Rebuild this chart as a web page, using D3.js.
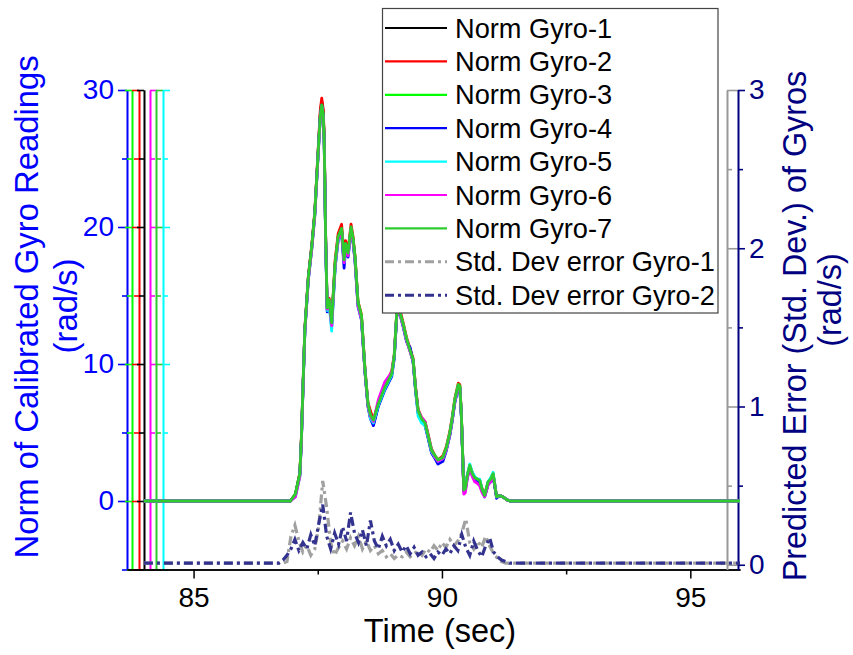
<!DOCTYPE html>
<html>
<head>
<meta charset="utf-8">
<script src="https://cdn.jsdelivr.net/npm/d3@7"></script>
<style>
  body { margin: 0; background: #fff; }
  svg { font-family: "Liberation Sans", Arial, sans-serif; }
</style>
</head>
<body>
<script>
// time stamps (sec) shared by the seven norm curves
var timeNorm = [84.0, 86.95, 87.05, 87.14, 87.17, 87.2, 87.24, 87.31, 87.38, 87.44,
  87.51, 87.55, 87.58, 87.61, 87.63, 87.66, 87.69, 87.73, 87.78, 87.85,
  87.91, 87.98, 88.03, 88.06, 88.11, 88.17, 88.21, 88.25, 88.31, 88.38,
  88.45, 88.51, 88.56, 88.62, 88.72, 88.85, 88.99, 89.04, 89.09, 89.15,
  89.22, 89.29, 89.36, 89.42, 89.47, 89.52, 89.59, 89.66, 89.72, 89.79,
  89.86, 89.92, 90.02, 90.09, 90.16, 90.21, 90.26, 90.33, 90.36, 90.39,
  90.42, 90.44, 90.47, 90.51, 90.56, 90.61, 90.66, 90.71, 90.76, 90.81,
  90.86, 90.93, 90.98, 91.03, 91.07, 91.1, 91.16, 91.23, 91.3, 91.37, 96.0];

// norm of calibrated gyro readings (rad/s)
var gyro1 = [0, 0, 0.5, 2.0, 4.5, 8.0, 12.5, 16.3, 18.6, 21.0,
  25.6, 28.2, 29.2, 28.4, 26.4, 19.0, 14.0, 14.6, 12.9, 17.3,
  19.2, 19.8, 17.5, 18.6, 18.0, 19.9, 19.1, 17.7, 14.4, 13.4,
  9.5, 7.0, 6.1, 5.6, 7.0, 8.2, 9.3, 10.5, 13.6, 13.8,
  12.8, 11.7, 10.9, 10.2, 8.1, 6.5, 5.9, 5.6, 4.7, 3.6,
  3.2, 2.9, 3.1, 3.8, 4.9, 6.0, 7.3, 8.4, 8.3, 6.3,
  3.0, 0.8, 0.9, 1.8, 2.5, 2.0, 1.6, 1.5, 1.4, 0.8,
  0.4, 1.3, 1.5, 1.9, 1.0, 0.3, 0.4, 0.3, 0.1, 0, 0];
var gyro2 = [0, 0, 0.4, 2.1, 4.6, 8.1, 12.6, 16.4, 18.7, 21.1,
  25.8, 28.5, 29.4, 28.6, 26.6, 19.2, 14.2, 14.8, 13.1, 17.6,
  19.5, 20.2, 17.9, 19.0, 18.3, 20.2, 19.3, 17.9, 14.6, 13.6,
  9.7, 7.2, 6.6, 5.9, 7.2, 8.3, 9.5, 10.7, 13.8, 14.0,
  13.0, 11.9, 11.1, 10.4, 8.3, 6.7, 6.1, 5.8, 4.9, 3.8,
  3.3, 3.0, 3.3, 4.0, 5.1, 6.2, 7.5, 8.6, 8.5, 6.5,
  3.1, 0.9, 1.0, 1.9, 2.6, 2.1, 1.7, 1.6, 1.5, 0.9,
  0.5, 1.4, 1.6, 2.0, 1.1, 0.3, 0.4, 0.3, 0.1, 0, 0];
var gyro3 = [0, 0, 0.5, 2.0, 4.4, 7.9, 12.4, 16.2, 18.5, 20.9,
  25.5, 28.0, 28.9, 28.2, 26.2, 18.9, 14.1, 14.6, 13.0, 17.3,
  19.2, 19.8, 17.6, 18.7, 18.1, 19.9, 19.1, 17.8, 14.5, 13.5,
  9.6, 7.1, 6.2, 5.8, 7.1, 8.3, 9.3, 10.6, 13.7, 13.8,
  12.9, 11.8, 11.0, 10.3, 8.2, 6.6, 6.0, 5.7, 4.8, 3.7,
  3.3, 3.0, 3.2, 3.9, 5.0, 6.1, 7.4, 8.5, 8.4, 6.4,
  3.0, 0.8, 0.9, 1.8, 2.6, 2.0, 1.7, 1.6, 1.5, 0.8,
  0.4, 1.4, 1.6, 2.0, 1.0, 0.3, 0.4, 0.3, 0.1, 0, 0];
var gyro4 = [0, 0, 0.4, 1.9, 4.4, 7.9, 12.4, 16.2, 18.5, 20.9,
  25.5, 28.0, 28.9, 28.1, 26.1, 18.8, 13.8, 14.4, 12.7, 17.1,
  19.0, 19.6, 17.0, 18.4, 17.8, 19.7, 18.9, 17.5, 14.2, 13.2,
  9.4, 6.9, 6.0, 5.5, 6.9, 8.1, 9.1, 10.4, 13.5, 13.7,
  12.7, 11.6, 11.2, 10.1, 8.0, 6.4, 5.8, 5.5, 4.6, 3.5,
  3.1, 2.7, 2.9, 3.7, 4.8, 5.9, 7.2, 8.3, 8.2, 6.2,
  2.9, 0.7, 0.8, 1.7, 2.4, 1.9, 1.5, 1.4, 1.3, 0.7,
  0.3, 1.2, 1.4, 1.8, 0.9, 0.2, 0.4, 0.3, 0.1, 0, 0];
var gyro5 = [0, 0, 0.3, 1.8, 4.3, 7.8, 12.3, 16.1, 18.4, 20.8,
  25.4, 27.9, 28.8, 28.0, 26.0, 18.8, 13.9, 14.3, 12.4, 17.0,
  19.0, 19.7, 17.4, 18.5, 17.9, 19.8, 19.0, 17.6, 14.3, 13.3,
  9.5, 7.0, 6.0, 5.7, 7.0, 8.2, 9.2, 10.5, 13.6, 13.7,
  12.8, 11.7, 10.9, 10.2, 8.1, 6.2, 5.7, 5.5, 4.7, 3.6,
  3.2, 2.9, 3.1, 3.8, 4.9, 6.0, 7.3, 8.4, 8.3, 6.3,
  3.0, 0.9, 1.0, 1.9, 2.7, 2.1, 1.8, 1.6, 1.6, 0.8,
  0.4, 1.4, 1.7, 2.1, 1.1, 0.3, 0.4, 0.3, 0.1, 0, 0];
var gyro6 = [0, 0, 0.3, 1.8, 4.2, 7.8, 12.3, 16.1, 18.4, 20.8,
  25.4, 27.9, 28.8, 28.1, 26.1, 18.9, 14.0, 14.5, 12.8, 17.2,
  19.1, 19.7, 17.4, 18.5, 17.9, 19.8, 19.0, 17.6, 14.3, 13.3,
  9.5, 7.0, 6.2, 5.8, 7.4, 8.7, 9.4, 10.6, 13.6, 13.7,
  12.8, 11.7, 10.9, 10.2, 8.2, 6.6, 6.1, 5.8, 4.8, 3.7,
  3.2, 2.9, 3.1, 3.8, 4.9, 6.0, 7.3, 8.4, 8.3, 6.3,
  3.0, 0.5, 0.6, 1.6, 2.4, 1.8, 1.4, 1.3, 1.1, 0.6,
  0.3, 1.2, 1.4, 1.9, 1.0, 0.3, 0.4, 0.3, 0.1, 0, 0];
var gyro7 = [0, 0, 0.5, 2.0, 4.5, 8.0, 12.5, 16.3, 18.6, 21.0,
  25.6, 28.0, 28.9, 28.2, 26.2, 19.0, 14.1, 14.7, 13.0, 17.4,
  19.3, 19.9, 17.6, 18.8, 18.1, 20.0, 19.2, 17.8, 14.5, 13.5,
  9.6, 7.1, 6.3, 5.9, 7.1, 8.3, 9.3, 10.6, 13.7, 13.8,
  12.9, 11.8, 11.0, 10.3, 8.2, 6.6, 6.0, 5.7, 4.8, 3.7,
  3.3, 3.0, 3.2, 3.9, 5.0, 6.1, 7.4, 8.5, 8.4, 6.4,
  3.0, 0.8, 0.9, 1.8, 2.6, 2.0, 1.7, 1.6, 1.5, 0.8,
  0.4, 1.4, 1.6, 2.0, 1.0, 0.3, 0.4, 0.3, 0.1, 0, 0];

// time stamps for the predicted error (std. dev.)
var timeStd = [84.0, 86.72, 86.8, 86.88, 86.96, 87.04, 87.12, 87.2, 87.28, 87.36,
  87.44, 87.52, 87.6, 87.68, 87.76, 87.84, 87.92, 88.0, 88.08, 88.16,
  88.24, 88.32, 88.4, 88.48, 88.56, 88.64, 88.72, 88.8, 88.88, 88.96,
  89.04, 89.12, 89.2, 89.28, 89.36, 89.44, 89.52, 89.6, 89.68, 89.76,
  89.84, 89.92, 90.0, 90.08, 90.16, 90.24, 90.32, 90.4, 90.48, 90.56,
  90.64, 90.72, 90.8, 90.88, 90.96, 91.04, 91.12, 91.2, 91.28, 91.36, 96.0];
var stdGyro1 = [0.01, 0.01, 0.01, 0.02, 0.18, 0.25, 0.15, 0.08, 0.12, 0.06,
  0.10, 0.24, 0.53, 0.36, 0.14, 0.06, 0.11, 0.15, 0.10, 0.17,
  0.12, 0.18, 0.10, 0.15, 0.09, 0.12, 0.07, 0.09, 0.05, 0.07,
  0.04, 0.06, 0.05, 0.08, 0.05, 0.07, 0.09, 0.06, 0.10, 0.08,
  0.12, 0.09, 0.14, 0.11, 0.16, 0.12, 0.15, 0.20, 0.29, 0.14,
  0.10, 0.15, 0.11, 0.18, 0.12, 0.07, 0.04, 0.02, 0.01, 0.01, 0.01];
var stdGyro2 = [0.01, 0.01, 0.03, 0.06, 0.10, 0.16, 0.09, 0.14, 0.10, 0.19,
  0.12, 0.26, 0.38, 0.18, 0.10, 0.20, 0.13, 0.24, 0.15, 0.33,
  0.20, 0.14, 0.22, 0.12, 0.28, 0.15, 0.10, 0.18, 0.12, 0.16,
  0.09, 0.13, 0.08, 0.12, 0.07, 0.11, 0.06, 0.08, 0.05, 0.07,
  0.04, 0.08, 0.06, 0.10, 0.07, 0.12, 0.09, 0.19, 0.11, 0.06,
  0.15, 0.09, 0.05, 0.12, 0.17, 0.08, 0.05, 0.03, 0.02, 0.01, 0.01];

var xTicks = [85, 90, 95];
var xMinor = [87.5, 92.5];
var leftTicks = [0, 10, 20, 30];
var leftMinor = [-5, 5, 15, 25];
var rightTicks = [0, 1, 2, 3];
var rightMinor = [0.5, 1.5, 2.5];
var legendNames = ["Norm Gyro-1", "Norm Gyro-2", "Norm Gyro-3", "Norm Gyro-4",
  "Norm Gyro-5", "Norm Gyro-6", "Norm Gyro-7",
  "Std. Dev error Gyro-1", "Std. Dev error Gyro-2"];

var normColors = ["#000000", "#ff0000", "#00ff00", "#0000ff", "#00ffff", "#ff00ff", "#2ecc2e"];
var grayCol = "#a0a0a0";
var navyCol = "#33338f";

var svg = d3.select("body").append("svg")
    .attr("width", 853)
    .attr("height", 655);

var x = d3.scaleLinear().domain([83.66, 96.0]).range([127, 740]);
var yL = d3.scaleLinear().domain([-5, 30]).range([569.5, 90]);
var yR = d3.scaleLinear().domain([-0.03, 3]).range([569.5, 90]);

// the stacked left axes, one per gyro layer
var leftAxes = [
  {pos: 127, color: "#0000ff", side: "left", labels: true},
  {pos: 132, color: "#00ff00", side: "left"},
  {pos: 139, color: "#ff0000", side: "left"},
  {pos: 144, color: "#000000", side: "left"},
  {pos: 150, color: "#ff00ff", side: "right"},
  {pos: 156, color: "#2ecc2e", side: "right"},
  {pos: 163, color: "#00ffff", side: "right"}
];

function styleAxis(g, color, width) {
  g.selectAll("path, line").attr("stroke", color).attr("stroke-width", width);
  g.selectAll("text").attr("fill", color);
}

leftAxes.forEach(function (a) {
  var mk = a.side == "left" ? d3.axisLeft : d3.axisRight;
  var g = svg.append("g").attr("transform", "translate(" + a.pos + ",0)");
  g.call(mk(yL).tickValues(leftMinor).tickSize(5).tickSizeOuter(0).tickFormat(""));
  var g2 = svg.append("g").attr("transform", "translate(" + a.pos + ",0)");
  g2.call(mk(yL).tickValues(leftTicks).tickSize(a.labels ? 9 : 7).tickSizeOuter(0)
      .tickPadding(4).tickFormat(a.labels ? d3.format("d") : ""));
  g2.selectAll("text").attr("font-size", 28);
  styleAxis(g, a.color, 1.6);
  styleAxis(g2, a.color, 1.6);
});

// bottom axis
var gx = svg.append("g").attr("transform", "translate(0,569.5)");
gx.call(d3.axisBottom(x).tickValues(xMinor).tickSize(5).tickSizeOuter(0).tickFormat(""));
var gx2 = svg.append("g").attr("transform", "translate(0,569.5)");
gx2.call(d3.axisBottom(x).tickValues(xTicks).tickSize(9).tickSizeOuter(0).tickPadding(9));
gx2.selectAll("text").attr("font-size", 28);
styleAxis(gx, "#000", 1.5);
styleAxis(gx2, "#000", 1.5);

// right axes: gray one for Gyro-1 error, navy one (with labels) for Gyro-2 error
var gg = svg.append("g").attr("transform", "translate(727,0)");
gg.call(d3.axisRight(yR).tickValues(rightMinor).tickSize(5).tickSizeOuter(0).tickFormat(""));
var gg2 = svg.append("g").attr("transform", "translate(727,0)");
gg2.call(d3.axisRight(yR).tickValues(rightTicks).tickSize(11).tickSizeOuter(0).tickFormat(""));
styleAxis(gg, "#999", 1.6);
styleAxis(gg2, "#999", 1.6);

var gr = svg.append("g").attr("transform", "translate(738,0)");
gr.call(d3.axisRight(yR).tickValues(rightMinor).tickSize(5).tickSizeOuter(0).tickFormat(""));
var gr2 = svg.append("g").attr("transform", "translate(738,0)");
gr2.call(d3.axisRight(yR).tickValues(rightTicks).tickSize(7).tickSizeOuter(0).tickPadding(4)
    .tickFormat(d3.format("d")));
gr2.selectAll("text").attr("font-size", 28);
styleAxis(gr, "#000080", 1.6);
styleAxis(gr2, "#000080", 1.6);

// norm curves
var normSeries = [gyro1, gyro2, gyro3, gyro4, gyro5, gyro6, gyro7];
var normLine = d3.line()
    .x(function (d, i) { return x(timeNorm[i]); })
    .y(function (d) { return yL(d); });

svg.selectAll("path.norm")
    .data(normSeries)
    .enter().append("path")
    .attr("class", "norm")
    .attr("fill", "none")
    .attr("stroke", function (d, i) { return normColors[i]; })
    .attr("stroke-width", 2.8)
    .attr("stroke-linejoin", "round")
    .attr("d", normLine);

// std dev error curves, dash-dot
var stdLine = d3.line()
    .x(function (d, i) { return x(timeStd[i]); })
    .y(function (d) { return yR(d); });

svg.append("path")
    .attr("fill", "none")
    .attr("stroke", grayCol)
    .attr("stroke-width", 3.2)
    .attr("stroke-dasharray", "9,4,3,4")
    .attr("d", stdLine(stdGyro1));

svg.append("path")
    .attr("fill", "none")
    .attr("stroke", navyCol)
    .attr("stroke-width", 3.2)
    .attr("stroke-dasharray", "9,4,3,4")
    .attr("d", stdLine(stdGyro2));

// axis titles
svg.append("text")
    .attr("transform", "translate(38,307) rotate(-90)")
    .attr("text-anchor", "middle")
    .attr("font-size", 32.8)
    .attr("fill", "#0000ff")
    .text("Norm of Calibrated Gyro Readings");
svg.append("text")
    .attr("transform", "translate(77,306) rotate(-90)")
    .attr("text-anchor", "middle")
    .attr("font-size", 32.8)
    .attr("fill", "#0000ff")
    .text("(rad/s)");

svg.append("text")
    .attr("transform", "translate(806,326) rotate(-90)")
    .attr("text-anchor", "middle")
    .attr("font-size", 32.4)
    .attr("fill", "#000080")
    .text("Predicted Error (Std. Dev.) of Gyros");
svg.append("text")
    .attr("transform", "translate(841,300) rotate(-90)")
    .attr("text-anchor", "middle")
    .attr("font-size", 32.4)
    .attr("fill", "#000080")
    .text("(rad/s)");

svg.append("text")
    .attr("x", 440)
    .attr("y", 642)
    .attr("text-anchor", "middle")
    .attr("font-size", 32.5)
    .attr("fill", "#000")
    .text("Time (sec)");

// legend
var legend = svg.append("g");
legend.append("rect")
    .attr("x", 382.5).attr("y", 8.5)
    .attr("width", 335.5).attr("height", 304.5)
    .attr("fill", "#fff")
    .attr("stroke", "#444")
    .attr("stroke-width", 1.2);

var legColors = normColors.concat([grayCol, navyCol]);
var rows = legend.selectAll("g.row")
    .data(legendNames)
    .enter().append("g")
    .attr("class", "row")
    .attr("transform", function (d, i) { return "translate(0," + (28 + i * 33.4) + ")"; });

rows.append("line")
    .attr("x1", 385).attr("x2", 447)
    .attr("y1", 0).attr("y2", 0)
    .attr("stroke", function (d, i) { return legColors[i]; })
    .attr("stroke-width", function (d, i) { return i < 7 ? 2.2 : 3; })
    .attr("stroke-dasharray", function (d, i) { return i < 7 ? null : "9,4,3,4"; });

rows.append("text")
    .attr("x", 455)
    .attr("dy", "0.35em")
    .attr("font-size", 27.2)
    .attr("fill", "#000")
    .text(function (d) { return d; });
</script>
</body>
</html>
